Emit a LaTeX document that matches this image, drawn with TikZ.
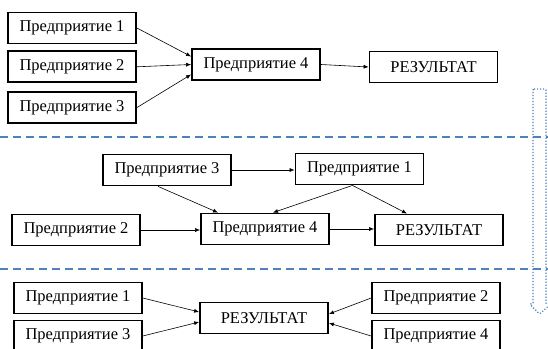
\documentclass[tikz,border=0pt]{standalone}
\usepackage{fontspec}
\setmainfont{Liberation Serif}
\usepackage{tikz}
\usetikzlibrary{positioning,arrows.meta}
\definecolor{sepblue}{HTML}{4F81BD}
\tikzset{
  firm/.style={draw, line width=1.8pt, minimum width=128pt, minimum height=31pt, inner sep=0pt, font=\fontsize{16.5}{18}\selectfont},
  link/.style={-{Latex[length=5pt,width=4pt]}, line width=0.6pt},
  sepline/.style={sepblue, line width=1.4pt, dash pattern=on 8pt off 5pt}
}
\begin{document}
\begin{tikzpicture}[x=1pt, y=-1pt]
  \clip (0,0) rectangle (548,348);
  \fill[white] (0,0) rectangle (548,348);
  % first scheme
  \node [firm] (a1) at (72,28) {Предприятие 1};
  \node [firm, below=6pt of a1] (a2) {Предприятие 2};
  \node [firm, below=8pt of a2] (a3) {Предприятие 3};
  \node [firm] (a4) at (256,64.5) {Предприятие 4};
  \node [firm] (ar) at (433.5,67) {РЕЗУЛЬТАТ};
  \draw [link] (a1.east) -- ([yshift=8pt]a4.west);
  \draw [link] (a2.east) -- (a4.west);
  \draw [link] (a3.east) -- ([yshift=-10pt]a4.west);
  \draw [link] (a4.east) -- (ar.west);
  \draw [sepline] (0,137) -- (548,137);
  % second scheme
  \node [firm] (b3) at (167,170) {Предприятие 3};
  \node [firm] (b1) at (359.5,169) {Предприятие 1};
  \node [firm] (b2) at (76,230) {Предприятие 2};
  \node [firm] (b4) at (265,229) {Предприятие 4};
  \node [firm] (br) at (439,230) {РЕЗУЛЬТАТ};
  \draw [link] (b3.east) -- (b1.west |- b3.east);
  \draw [link] ([xshift=-9pt]b3.south) -- ([xshift=-47pt]b4.north);
  \draw [link] ([xshift=-7pt]b1.south) -- ([xshift=8pt]b4.north);
  \draw [link] ([xshift=-7pt]b1.south) -- ([xshift=-32pt]br.north);
  \draw [link] (b2.east) -- (b4.west |- b2.east);
  \draw [link] (b4.east) -- (br.west |- b4.east);
  \draw [sepline] (0,269) -- (548,269);
  % third scheme
  \node [firm] (c1) at (78,298) {Предприятие 1};
  \node [firm] (c3) at (78,336) {Предприятие 3};
  \node [firm] (cr) at (264,318) {РЕЗУЛЬТАТ};
  \node [firm] (c2) at (436,298) {Предприятие 2};
  \node [firm] (c4) at (436,336) {Предприятие 4};
  \draw [link] (c1.east) -- ([yshift=6pt]cr.west);
  \draw [link] (c3.east) -- ([yshift=-4pt]cr.west);
  \draw [link] (c2.west) -- ([yshift=4pt]cr.east);
  \draw [link] (c4.west) -- ([yshift=-5pt]cr.east);
  % dotted block arrow
  \draw [sepblue, line width=1.2pt, dash pattern=on 1.2pt off 1.8pt, rounded corners=1pt]
    (533,89) -- (546,89) -- (546,304) -- (551,304) -- (539.5,314) -- (529.5,304) -- (533,304) -- cycle;
\end{tikzpicture}
\end{document}
